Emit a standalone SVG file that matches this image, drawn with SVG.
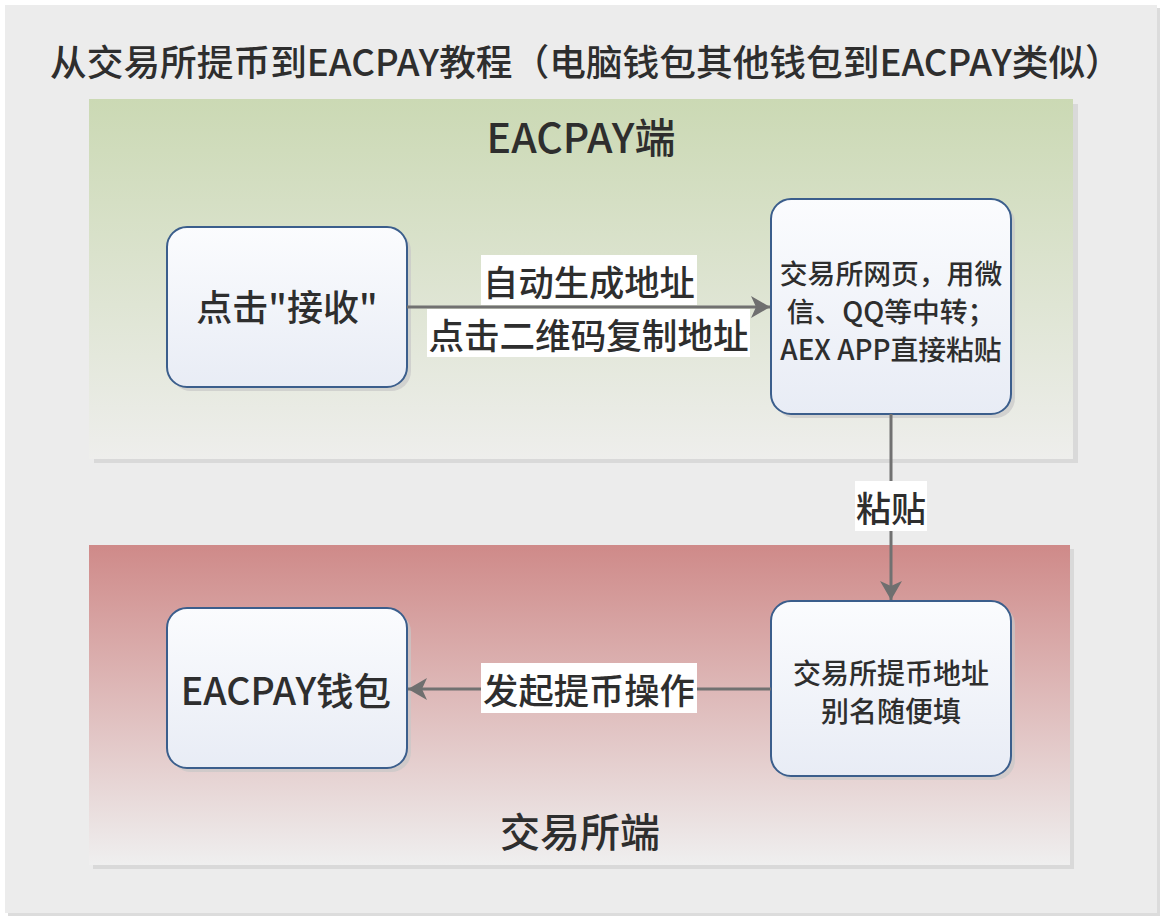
<svg xmlns="http://www.w3.org/2000/svg" width="1162" height="918" viewBox="0 0 1162 918">
<defs>
<style>
text{font-family:"Noto Sans CJK SC","Noto Sans",sans-serif;fill:#2e2e2e;dominant-baseline:central;font-weight:500;}
.node{fill:url(#nodeGrad);stroke:#3b5e8c;stroke-width:2;}
.nshadow{fill:#c8c8c8;opacity:0.7;}
.conn{stroke:#717171;stroke-width:3;fill:none;}
.lbl{fill:#ffffff;}
.lane-shadow{fill:#d9d9d9;}
</style>
<linearGradient id="nodeGrad" x1="0" y1="0" x2="0" y2="1">
<stop offset="0" stop-color="#fbfcfe"/>
<stop offset="1" stop-color="#e8ecf5"/>
</linearGradient>
<linearGradient id="greenGrad" x1="0" y1="0" x2="0" y2="1">
<stop offset="0" stop-color="#cbd9b4"/>
<stop offset="1" stop-color="#eeeeec"/>
</linearGradient>
<linearGradient id="redGrad" x1="0" y1="0" x2="0" y2="1">
<stop offset="0" stop-color="#cf8a89"/>
<stop offset="1" stop-color="#efefef"/>
</linearGradient>
<marker id="arrow" markerUnits="userSpaceOnUse" markerWidth="24" markerHeight="24" viewBox="-20 -12 24 24" refX="0" refY="0" orient="auto">
<path d="M0,0 L-19,-11 L-14,0 L-19,11 Z" fill="#6f6f6f"/>
</marker>
</defs>

<g id="background">
<rect x="8" y="8" width="1152" height="908" fill="#dcdcdc"/>
<rect x="5" y="5" width="1152" height="908" fill="#ececec"/>
<text x="50" y="60" font-size="36.7">从交易所提币到EACPAY教程（电脑钱包其他钱包到EACPAY类似）</text>
</g>

<g id="lane-eacpay">
<rect class="lane-shadow" x="94" y="104" width="984" height="359"/>
<rect x="89" y="99" width="984" height="360" fill="url(#greenGrad)"/>
<text x="581" y="135" font-size="41" text-anchor="middle">EACPAY端</text>
</g>

<g id="lane-exchange">
<rect class="lane-shadow" x="93" y="549" width="981" height="320"/>
<rect x="89" y="545" width="981" height="320" fill="url(#redGrad)"/>
<text x="580" y="830" font-size="40" text-anchor="middle">交易所端</text>
</g>

<g id="node-receive">
<rect class="nshadow" x="171" y="231" width="240" height="160" rx="20"/>
<rect class="node" x="167" y="227" width="240" height="160" rx="20"/>
<text x="287" y="305" font-size="36" text-anchor="middle">点击"接收"</text>
</g>

<g id="node-exchange-web">
<rect class="nshadow" x="775" y="203" width="240" height="215" rx="20"/>
<rect class="node" x="771" y="199" width="240" height="215" rx="20"/>
<text x="891" y="272" font-size="27.8" text-anchor="middle">交易所网页，用微</text>
<text x="891" y="310" font-size="27.8" text-anchor="middle">信、QQ等中转；</text>
<text x="891" y="348" font-size="27.8" text-anchor="middle">AEX APP直接粘贴</text>
</g>

<g id="node-exchange-addr">
<rect class="nshadow" x="775" y="605" width="240" height="175" rx="20"/>
<rect class="node" x="771" y="601" width="240" height="175" rx="20"/>
<text x="891" y="672" font-size="28" text-anchor="middle">交易所提币地址</text>
<text x="891" y="710" font-size="28" text-anchor="middle">别名随便填</text>
</g>

<g id="node-wallet">
<rect class="nshadow" x="171" y="612" width="240" height="160" rx="20"/>
<rect class="node" x="167" y="608" width="240" height="160" rx="20"/>
<text x="286" y="688" font-size="37.5" text-anchor="middle">EACPAY钱包</text>
</g>

<g id="connectors">
<line class="conn" x1="407" y1="307" x2="770" y2="307" marker-end="url(#arrow)"/>
<line class="conn" x1="891" y1="414" x2="891" y2="600" marker-end="url(#arrow)"/>
<line class="conn" x1="771" y1="689" x2="408" y2="689" marker-end="url(#arrow)"/>
<rect class="lbl" x="481" y="255" width="216" height="50"/>
<text x="589" y="280" font-size="35.3" text-anchor="middle">自动生成地址</text>
<rect class="lbl" x="427" y="309" width="323" height="48"/>
<text x="588.5" y="333" font-size="35.6" text-anchor="middle">点击二维码复制地址</text>
<rect class="lbl" x="855" y="481" width="72" height="50"/>
<text x="891" y="506" font-size="35" text-anchor="middle">粘贴</text>
<rect class="lbl" x="481" y="663" width="216" height="50"/>
<text x="589" y="688" font-size="35.3" text-anchor="middle">发起提币操作</text>
</g>
</svg>
